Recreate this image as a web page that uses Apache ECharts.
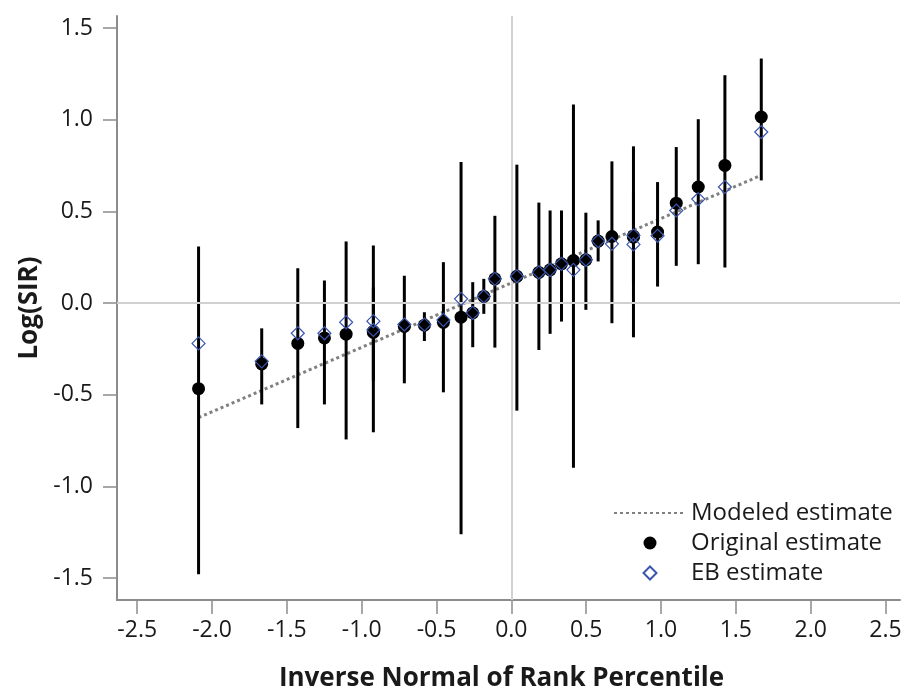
<!DOCTYPE html>
<html><head><meta charset="utf-8">
<script src="https://cdn.jsdelivr.net/npm/echarts@6/dist/echarts.min.js"></script>
<style>html,body{margin:0;padding:0;background:#fff}#c{width:903px;height:689px}</style>
</head><body><div id="c"></div>
<script>
const xVals = [-2.09, -1.668, -1.427, -1.249, -1.104, -0.922, -0.922, -0.715, -0.581, -0.454, -0.336, -0.258, -0.184, -0.11, 0.037, 0.184, 0.259, 0.335, 0.415, 0.498, 0.58, 0.672, 0.816, 0.816, 0.977, 1.102, 1.249, 1.427, 1.67];
const originalEst = [-0.467, -0.332, -0.22, -0.19, -0.17, -0.16, -0.155, -0.128, -0.121, -0.105, -0.077, -0.054, 0.036, 0.132, 0.146, 0.167, 0.181, 0.214, 0.232, 0.236, 0.338, 0.363, 0.365, 0.36, 0.387, 0.545, 0.633, 0.751, 1.015];
const ebEst = [-0.22, -0.318, -0.165, -0.165, -0.105, -0.099, -0.147, -0.117, -0.118, -0.092, 0.023, -0.054, 0.036, 0.132, 0.146, 0.167, 0.181, 0.214, 0.181, 0.236, 0.338, 0.323, 0.369, 0.32, 0.367, 0.505, 0.567, 0.633, 0.933];
const ciLow = [-1.48, -0.553, -0.682, -0.553, -0.744, -0.705, -0.424, -0.438, -0.207, -0.487, -1.261, -0.241, -0.059, -0.243, -0.587, -0.256, -0.168, -0.101, -0.899, -0.037, 0.227, -0.11, -0.187, 0.105, 0.09, 0.203, 0.212, 0.194, 0.669];
const ciHigh = [0.309, -0.138, 0.19, 0.123, 0.336, 0.314, 0.086, 0.149, -0.05, 0.223, 0.769, 0.114, 0.132, 0.476, 0.755, 0.548, 0.505, 0.505, 1.083, 0.493, 0.451, 0.773, 0.855, 0.605, 0.66, 0.851, 1.003, 1.243, 1.334];
const modeledX = [-2.09, 1.67];
const modeledY = [-0.625, 0.697];
const xTicks = [-2.5, -2.0, -1.5, -1.0, -0.5, 0.0, 0.5, 1.0, 1.5, 2.0, 2.5];
const yTicks = [-1.5, -1.0, -0.5, 0.0, 0.5, 1.0, 1.5];

const FONT = 'Open Sans';
const chart = echarts.init(document.getElementById('c'));
const axisColor = '#8c8c8c';
const diamondPath = 'path://M0,-1L1,0L0,1L-1,0Z';
chart.setOption({
  animation: false,
  backgroundColor: '#fff',
  textStyle: { fontFamily: FONT },
  grid: { left: 117, right: 3, top: 16, bottom: 89, outerBoundsMode: 'none', containLabel: false },
  legend: {
    orient: 'vertical', left: 608, top: 496,
    itemWidth: 72, itemHeight: 13, itemGap: 6,
    textStyle: { fontSize: 24, color: '#1a1a1a', fontFamily: FONT, lineHeight: 22 },
    data: [
      { name: 'Modeled estimate' },
      { name: 'Original estimate' },
      { name: 'EB estimate', icon: diamondPath }
    ]
  },
  xAxis: {
    type: 'value', min: -2.635, max: 2.597,
    name: 'Inverse Normal of Rank Percentile', nameLocation: 'middle', nameGap: 66,
    nameTextStyle: { fontSize: 26, fontWeight: 'bold', color: '#1a1a1a', fontFamily: FONT, padding: [0, 14, 0, 0] },
    axisLine: { onZero: false, lineStyle: { color: axisColor, width: 2 } },
    axisTick: { show: true, length: 14, customValues: xTicks, lineStyle: { color: axisColor, width: 1.5 } },
    axisLabel: { customValues: xTicks, margin: 19, fontSize: 23, color: '#1a1a1a', formatter: v => v.toFixed(1) },
    splitLine: { show: false }
  },
  yAxis: {
    type: 'value', min: -1.62, max: 1.566,
    name: 'Log(SIR)', nameLocation: 'middle', nameGap: 74,
    nameTextStyle: { fontSize: 26, fontWeight: 'bold', color: '#1a1a1a', fontFamily: FONT },
    axisLine: { onZero: false, lineStyle: { color: axisColor, width: 2 } },
    axisTick: { show: true, length: 14, customValues: yTicks, lineStyle: { color: axisColor, width: 1.5 } },
    axisLabel: { customValues: yTicks, margin: 24, fontSize: 23, color: '#1a1a1a', formatter: v => v.toFixed(1) },
    splitLine: { show: false }
  },
  series: [
    {
      name: 'ref', type: 'line', data: [], silent: true,
      markLine: {
        silent: true, symbol: 'none', label: { show: false },
        lineStyle: { color: '#d0d0d0', width: 2, type: 'solid' },
        data: [{ xAxis: 0 }, { yAxis: 0 }]
      }
    },
    {
      name: 'Modeled estimate', type: 'line', symbol: 'none', z: 3,
      lineStyle: { color: '#808080', width: 3, type: [3, 3] },
      itemStyle: { color: 'rgba(0,0,0,0)' },
      data: modeledX.map((x, i) => [x, modeledY[i]])
    },
    {
      name: 'CI', type: 'custom', z: 4,
      data: xVals.map((x, i) => [x, ciLow[i], ciHigh[i]]),
      renderItem: (params, api) => {
        const p1 = api.coord([api.value(0), api.value(1)]);
        const p2 = api.coord([api.value(0), api.value(2)]);
        return { type: 'line', shape: { x1: p1[0], y1: p1[1], x2: p2[0], y2: p2[1] },
          style: { stroke: '#000', lineWidth: 3 } };
      }
    },
    {
      name: 'Original estimate', type: 'scatter', z: 5, symbol: 'circle', symbolSize: 13,
      itemStyle: { color: '#000', opacity: 1 },
      data: xVals.map((x, i) => [x, originalEst[i]])
    },
    {
      name: 'EB estimate', type: 'scatter', z: 6, symbol: 'diamond', symbolSize: 13,
      itemStyle: { color: 'rgba(0,0,0,0)', borderColor: '#3b55ad', borderWidth: 1.2, opacity: 1 },
      data: xVals.map((x, i) => [x, ebEst[i]])
    }
  ]
});
</script></body></html>
